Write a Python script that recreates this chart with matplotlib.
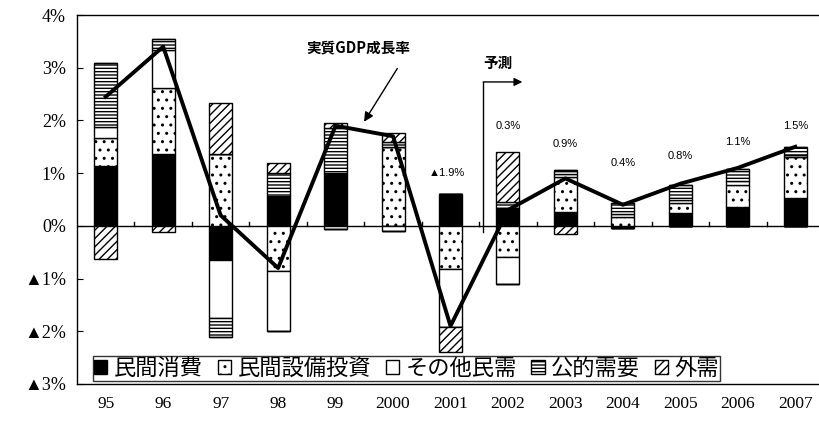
import matplotlib
matplotlib.use("Agg")
import matplotlib.pyplot as plt
from matplotlib.patches import Patch
import numpy as np

plt.rcParams['hatch.linewidth'] = 1.0

# 年度
years = ['95', '96', '97', '98', '99', '2000', '2001', '2002', '2003',
         '2004', '2005', '2006', '2007']

# 実質GDP成長率への寄与度（%）
consumption = [1.14, 1.37, -0.64, 0.57, 1.00, 0.00, 0.61, 0.34, 0.27, -0.04, 0.25, 0.35, 0.53]
equipment   = [0.53, 1.25, 1.37, -0.85, 0.00, 1.50, -0.82, -0.60, 0.66, 0.17, 0.19, 0.42, 0.77]
other       = [0.21, 0.72, -1.10, -1.14, -0.06, -0.10, -1.09, -0.50, 0.05, 0.05, 0.05, 0.08, 0.05]
public      = [1.21, 0.20, -0.36, 0.43, 0.85, 0.10, 0.00, 0.12, 0.08, 0.22, 0.29, 0.22, 0.15]
external    = [-0.63, -0.11, 0.96, 0.19, 0.10, 0.17, -0.49, 0.94, -0.15, 0.00, 0.00, 0.00, 0.00]

# 実質GDP成長率（%）
gdp = [2.45, 3.40, 0.20, -0.80, 1.90, 1.70, -1.90, 0.30, 0.90, 0.40, 0.80, 1.10, 1.50]

series_names = ['民間消費', '民間設備投資', 'その他民需', '公的需要', '外需']
series = [consumption, equipment, other, public, external]

y_ticks = [4, 3, 2, 1, 0, -1, -2, -3]

# 描画スタイル
styles = [dict(facecolor='black', hatch=None),
          dict(facecolor='white', hatch='..'),
          dict(facecolor='white', hatch=None),
          dict(facecolor='white', hatch='-----'),
          dict(facecolor='white', hatch='////')]

# 予測値ラベルの高さ（2001年以降）
label_from = 6
label_heights = [1.0, 1.9, 1.55, 1.2, 1.33, 1.6, 1.9]

fig = plt.figure(figsize=(8.2, 4.21), dpi=100)
W, H = 820, 421
ax = fig.add_axes([77 / W, 1 - 384 / H, 747 / W, 369 / H])

x = np.arange(len(years))
width = 0.4
pos_base = np.zeros(len(years))
neg_base = np.zeros(len(years))
for vals, st in zip(series, styles):
    v = np.array(vals)
    pos = np.where(v > 0, v, 0)
    neg = np.where(v < 0, v, 0)
    ax.bar(x, pos, width, bottom=pos_base, facecolor=st['facecolor'],
           hatch=st['hatch'], edgecolor='black', linewidth=1.0, zorder=2)
    ax.bar(x, neg, width, bottom=neg_base, facecolor=st['facecolor'],
           hatch=st['hatch'], edgecolor='black', linewidth=1.0, zorder=2)
    pos_base += pos
    neg_base += neg

ax.plot(x, gdp, color='black', linewidth=2.8, zorder=3)

# 0%線と区切り目盛
ax.axhline(0, color='black', linewidth=1.0, zorder=1)
for b in x[:-1] + 0.5:
    ax.plot([b, b], [0, 0.08], color='black', linewidth=1.0, zorder=1)

tick_fonts = ['Liberation Serif', 'Noto Sans CJK JP', 'DejaVu Sans']
ax.set_xlim(-0.5, 12.5)
ax.set_ylim(-3, 4)
ax.set_yticks(y_ticks)
ax.set_yticklabels([f'{t}%' if t >= 0 else f'▲{-t}%' for t in y_ticks],
                   family=tick_fonts, fontsize=13)
ax.set_xticks(x)
ax.set_xticklabels(years, family='Liberation Serif', fontsize=12.5)
ax.tick_params(axis='y', direction='in', length=4, width=0.8, pad=8)
ax.tick_params(axis='x', length=0, pad=9)
for s in ['left', 'top', 'bottom']:
    ax.spines[s].set_linewidth(1.0)
ax.spines['right'].set_visible(False)

# 成長率ラベル
for i, yl in enumerate(label_heights):
    g = gdp[label_from + i]
    txt = f'{g:.1f}%' if g >= 0 else f'▲{-g:.1f}%'
    xo = -0.07 if g < 0 else 0.0
    ax.text(x[label_from + i] + xo, yl, txt, ha='center', va='center',
            fontsize=8, family=['Liberation Sans', 'Noto Sans CJK JP', 'DejaVu Sans'])

cjk = ['Noto Sans CJK JP', 'DejaVu Sans']
ax.text(4.4, 3.39, '実質GDP成長率', ha='center', va='center', fontsize=10.5,
        fontweight='bold', family=cjk)
ax.annotate('', xy=(4.47, 1.93), xytext=(5.1, 3.03),
            arrowprops=dict(arrowstyle='-|>', color='black', lw=1.0,
                            mutation_scale=14))

# 予測の矢印
ax.text(6.82, 3.1, '予測', ha='center', va='center', fontsize=10.5,
        fontweight='bold', family=cjk)
ax.plot([6.57, 6.57], [-0.11, 2.73], color='black', linewidth=1.0)
ax.annotate('', xy=(7.25, 2.73), xytext=(6.57, 2.73),
            arrowprops=dict(arrowstyle='-|>', color='black', lw=1.0,
                            mutation_scale=12, shrinkA=0, shrinkB=0))

handles = [Patch(facecolor=st['facecolor'], hatch=st['hatch'], edgecolor='black',
                 linewidth=1.0) for st in styles]
leg = fig.legend(handles, series_names, loc='lower left', ncol=5,
                 bbox_to_anchor=(93 / W, 1 - 381 / H),
                 bbox_transform=fig.transFigure, borderaxespad=0,
                 prop={'family': cjk, 'size': 16}, handlelength=0.6,
                 handleheight=0.6, handletextpad=0.3, columnspacing=0.65,
                 borderpad=0.05, frameon=True, fancybox=False)
leg.get_frame().set_edgecolor('black')
leg.get_frame().set_linewidth(1.0)

fig.savefig('out.png', dpi=100)
